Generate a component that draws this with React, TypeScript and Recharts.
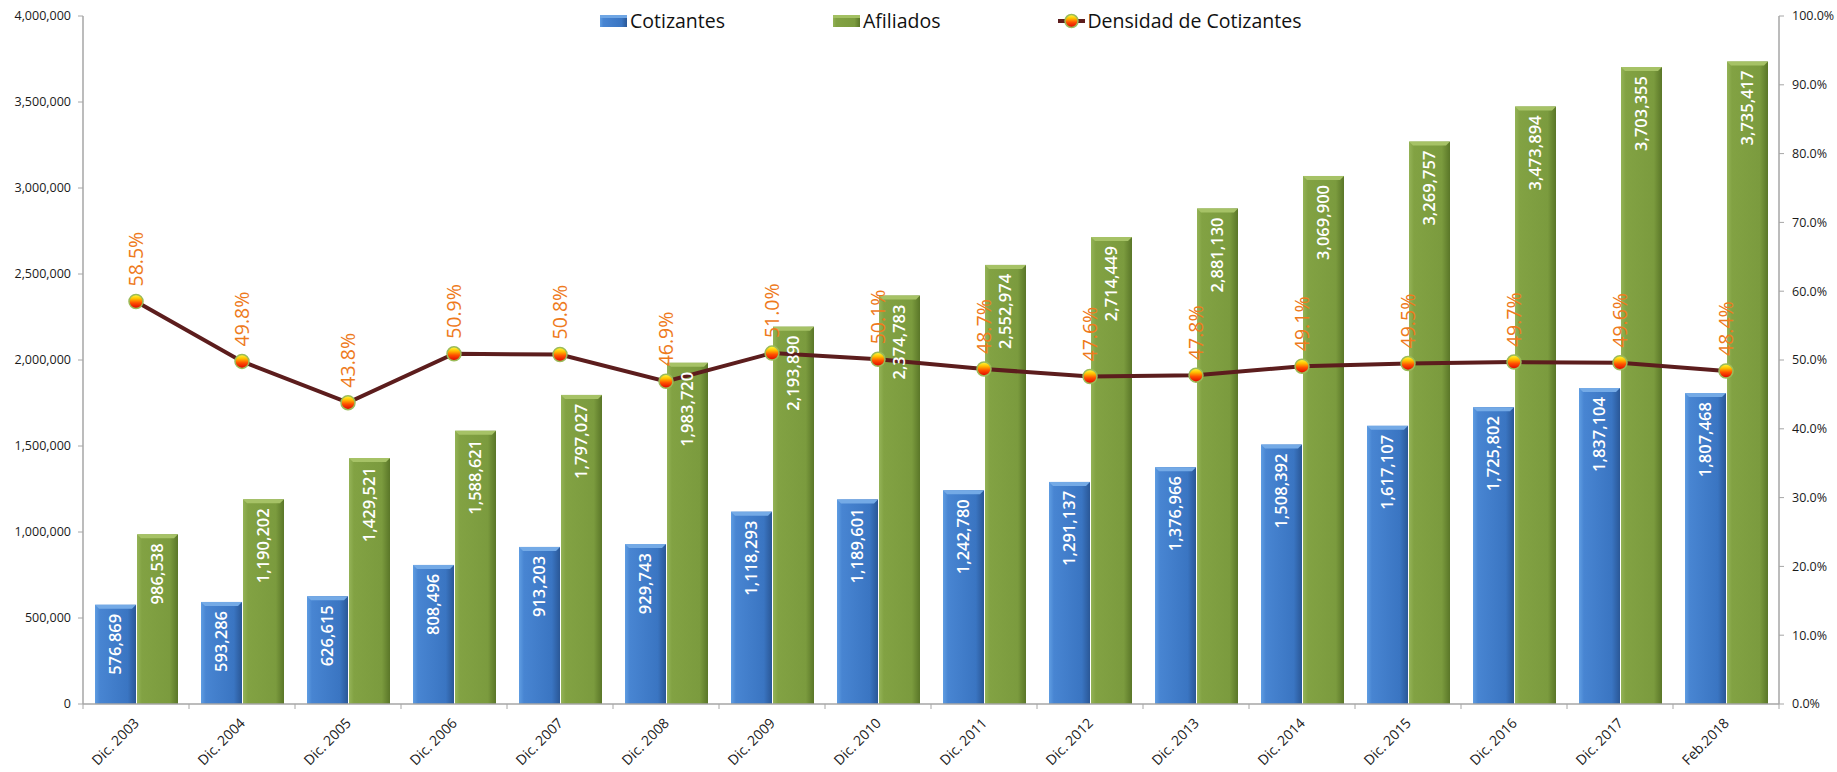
import React from "react";
import {
  ComposedChart,
  Bar,
  Line,
  XAxis,
  YAxis,
  Legend,
  LabelList,
} from "recharts";

const categories = [
  "Dic. 2003",
  "Dic. 2004",
  "Dic. 2005",
  "Dic. 2006",
  "Dic. 2007",
  "Dic. 2008",
  "Dic. 2009",
  "Dic. 2010",
  "Dic. 2011",
  "Dic. 2012",
  "Dic. 2013",
  "Dic. 2014",
  "Dic. 2015",
  "Dic. 2016",
  "Dic. 2017",
  "Feb.2018",
];

const cotizantes = [
  576869, 593286, 626615, 808496, 913203, 929743, 1118293, 1189601, 1242780,
  1291137, 1376966, 1508392, 1617107, 1725802, 1837104, 1807468,
];

const afiliados = [
  986538, 1190202, 1429521, 1588621, 1797027, 1983720, 2193890, 2374783,
  2552974, 2714449, 2881130, 3069900, 3269757, 3473894, 3703355, 3735417,
];

const densidad = [
  58.5, 49.8, 43.8, 50.9, 50.8, 46.9, 51.0, 50.1, 48.7, 47.6, 47.8, 49.1, 49.5,
  49.7, 49.6, 48.4,
];

const leftTicks = [0, 500000, 1000000, 1500000, 2000000, 2500000, 3000000, 3500000, 4000000];
const rightTicks = [0, 10, 20, 30, 40, 50, 60, 70, 80, 90, 100];

const data = categories.map((name, i) => ({
  name,
  cotizantes: cotizantes[i],
  afiliados: afiliados[i],
  densidad: densidad[i],
}));

const W = 1837;
const H = 772;
const LEFT_W = 83;
const RIGHT_W = 58;
const STEP = (W - LEFT_W - RIGHT_W) / categories.length;
const FONT = "'Open Sans', sans-serif";
const AXIS_GRAY = "#a6a6a6";
const ORANGE = "#ee7a1c";
const MAROON = "#5c1d1d";

const fmt = (v: number) => v.toLocaleString("en-US");

function makeBar(grad: string, top: string) {
  return (props: any) => {
    const { x, y, width, height } = props;
    if (!height || height <= 0) return null;
    const b = 4;
    return (
      <g>
        <rect x={x} y={y} width={width} height={height} fill={`url(#${grad})`} />
        <polygon
          points={`${x},${y} ${x + width},${y} ${x + width - b},${y + b} ${x + b},${y + b}`}
          fill={top}
        />
      </g>
    );
  };
}

const BarValue = (props: any) => {
  const { x, y, width, value } = props;
  const px = x + width / 2 + 6;
  const py = y + 9;
  return (
    <text
      x={px}
      y={py}
      transform={`rotate(-90, ${px}, ${py})`}
      textAnchor="end"
      fill="#ffffff"
      fontSize={16.5}
      fontWeight={600}
      fontFamily={FONT}
    >
      {fmt(value)}
    </text>
  );
};

const LineValue = (props: any) => {
  const { x, y, value } = props;
  const px = x + 7;
  const py = y - 15;
  return (
    <text
      x={px}
      y={py}
      transform={`rotate(-90, ${px}, ${py})`}
      textAnchor="start"
      fill={ORANGE}
      fontSize={19.5}
      fontFamily={FONT}
    >
      {value.toFixed(1)}%
    </text>
  );
};

const XTick = (props: any) => {
  const { x, y, payload, index } = props;
  const bx = x - STEP / 2;
  const tx = x + 4;
  const ty = y + 20;
  return (
    <g>
      <line x1={bx} y1={y} x2={bx} y2={y + 5} stroke={AXIS_GRAY} />
      {index === categories.length - 1 && (
        <line x1={x + STEP / 2} y1={y} x2={x + STEP / 2} y2={y + 5} stroke={AXIS_GRAY} />
      )}
      <text
        x={tx}
        y={ty}
        transform={`rotate(-45, ${tx}, ${ty})`}
        textAnchor="end"
        fill="#1a1a1a"
        fontSize={14}
        fontFamily={FONT}
      >
        {payload.value}
      </text>
    </g>
  );
};

const Dot = (props: any) => {
  const { cx, cy, index } = props;
  return (
    <circle
      key={`dot-${index}`}
      cx={cx}
      cy={cy}
      r={7}
      fill="url(#dotGrad)"
      stroke="#9bbb59"
      strokeWidth={1.5}
    />
  );
};

const LegendContent = () => {
  const item = { display: "flex", alignItems: "center", fontSize: 19.5, color: "#111" };
  return (
    <div style={{ display: "flex", paddingLeft: 600, fontFamily: FONT }}>
      <div style={{ ...item, marginRight: 108 }}>
        <svg width={27} height={14} style={{ marginRight: 3 }}>
          <rect x={0} y={1} width={27} height={12} fill="url(#blueGrad)" />
          <rect x={0} y={1} width={27} height={3} fill="#6fa6e4" />
        </svg>
        Cotizantes
      </div>
      <div style={{ ...item, marginRight: 118 }}>
        <svg width={27} height={14} style={{ marginRight: 3 }}>
          <rect x={0} y={1} width={27} height={12} fill="url(#greenGrad)" />
          <rect x={0} y={1} width={27} height={3} fill="#a3c063" />
        </svg>
        Afiliados
      </div>
      <div style={item}>
        <svg width={27} height={16} style={{ marginRight: 2 }}>
          <line x1={0} y1={8} x2={27} y2={8} stroke={MAROON} strokeWidth={4} />
          <circle cx={13.5} cy={8} r={6.5} fill="url(#dotGrad)" stroke="#9bbb59" strokeWidth={1.5} />
        </svg>
        Densidad de Cotizantes
      </div>
    </div>
  );
};

export default function App() {
  return (
    <div style={{ position: "absolute", left: 0, top: 0, width: W, height: H, background: "#fff" }}>
      <ComposedChart
        width={W}
        height={H}
        data={data}
        margin={{ top: 16, right: 0, bottom: 8, left: 0 }}
        barCategoryGap={12}
        barGap={1}
      >
        <defs>
          <linearGradient id="blueGrad" x1="0" y1="0" x2="1" y2="0">
            <stop offset="0%" stopColor="#5f9de2" />
            <stop offset="12%" stopColor="#4885d2" />
            <stop offset="80%" stopColor="#3a75c2" />
            <stop offset="100%" stopColor="#2a5796" />
          </linearGradient>
          <linearGradient id="greenGrad" x1="0" y1="0" x2="1" y2="0">
            <stop offset="0%" stopColor="#94b357" />
            <stop offset="12%" stopColor="#82a243" />
            <stop offset="80%" stopColor="#7b9b3e" />
            <stop offset="100%" stopColor="#5a7628" />
          </linearGradient>
          <linearGradient id="dotGrad" x1="0" y1="0" x2="0" y2="1">
            <stop offset="0%" stopColor="#ffff40" />
            <stop offset="30%" stopColor="#ffc000" />
            <stop offset="60%" stopColor="#ff5000" />
            <stop offset="100%" stopColor="#dd0000" />
          </linearGradient>
        </defs>
        <XAxis
          dataKey="name"
          interval={0}
          height={60}
          tickSize={0}
          tickMargin={0}
          tickLine={false}
          axisLine={{ stroke: AXIS_GRAY, strokeWidth: 1.5 }}
          tick={<XTick />}
        />
        <YAxis
          yAxisId="left"
          width={LEFT_W}
          domain={[0, 4000000]}
          ticks={leftTicks}
          tickFormatter={fmt}
          tickSize={5}
          tickMargin={7}
          axisLine={{ stroke: AXIS_GRAY, strokeWidth: 1.5 }}
          tickLine={{ stroke: AXIS_GRAY }}
          tick={{ fill: "#1a1a1a", fontSize: 12.5, fontFamily: FONT }}
        />
        <YAxis
          yAxisId="right"
          orientation="right"
          width={RIGHT_W}
          domain={[0, 100]}
          ticks={rightTicks}
          tickFormatter={(v: number) => `${v.toFixed(1)}%`}
          tickSize={5}
          tickMargin={8}
          axisLine={{ stroke: AXIS_GRAY, strokeWidth: 1.5 }}
          tickLine={{ stroke: AXIS_GRAY }}
          tick={{ fill: "#1a1a1a", fontSize: 12.5, fontFamily: FONT, textAnchor: "start" }}
        />
        <Legend
          verticalAlign="middle"
          layout="horizontal"
          content={<LegendContent />}
          wrapperStyle={{ top: 7, left: 0, width: W }}
        />
        <Bar
          yAxisId="left"
          dataKey="cotizantes"
          name="Cotizantes"
          shape={makeBar("blueGrad", "#74aae6")}
          isAnimationActive={false}
        >
          <LabelList dataKey="cotizantes" content={<BarValue />} />
        </Bar>
        <Bar
          yAxisId="left"
          dataKey="afiliados"
          name="Afiliados"
          shape={makeBar("greenGrad", "#a6c266")}
          isAnimationActive={false}
        >
          <LabelList dataKey="afiliados" content={<BarValue />} />
        </Bar>
        <Line
          yAxisId="right"
          dataKey="densidad"
          name="Densidad de Cotizantes"
          stroke={MAROON}
          strokeWidth={4}
          dot={Dot}
          activeDot={false}
          isAnimationActive={false}
        >
          <LabelList dataKey="densidad" content={<LineValue />} />
        </Line>
      </ComposedChart>
    </div>
  );
}
